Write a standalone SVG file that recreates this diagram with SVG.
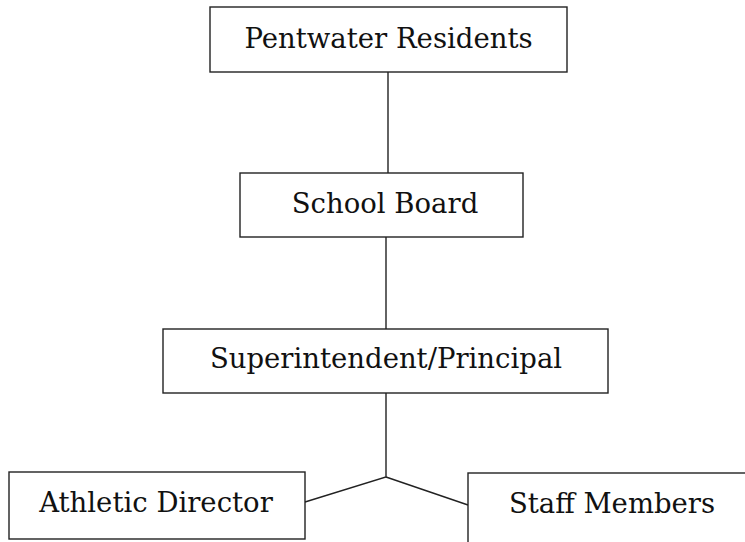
<svg xmlns="http://www.w3.org/2000/svg" width="745" height="542" viewBox="0 0 745 542">
  <style>
    .box { fill: #ffffff; stroke: #222222; stroke-width: 1.4; }
    .lbl { font-family: "DejaVu Serif", "Liberation Serif", serif; font-size: 27.5px; fill: #111111; text-anchor: middle; }
    .conn { fill: none; stroke: #222222; stroke-width: 1.4; }
  </style>
  <rect width="745" height="542" fill="#ffffff"/>
  <g id="connectors">
    <line class="conn" x1="388" y1="72" x2="388" y2="173"/>
    <line class="conn" x1="386" y1="237" x2="386" y2="329"/>
    <polyline class="conn" points="386,393 386,477 305,502"/>
    <line class="conn" x1="386" y1="477" x2="468" y2="505"/>
  </g>
  <g id="pentwater-residents">
    <rect class="box" x="210" y="7" width="357" height="65"/>
    <text class="lbl" x="388.5" y="48">Pentwater Residents</text>
  </g>
  <g id="school-board">
    <rect class="box" x="240" y="173" width="283" height="64"/>
    <text class="lbl" x="385" y="213">School Board</text>
  </g>
  <g id="superintendent-principal">
    <rect class="box" x="163" y="329" width="445" height="64"/>
    <text class="lbl" x="386" y="368">Superintendent/Principal</text>
  </g>
  <g id="athletic-director">
    <rect class="box" x="9" y="472" width="296" height="67"/>
    <text class="lbl" x="156" y="512">Athletic Director</text>
  </g>
  <g id="staff-members">
    <rect class="box" x="468" y="473" width="290" height="80"/>
    <text class="lbl" x="612" y="513">Staff Members</text>
  </g>
</svg>
